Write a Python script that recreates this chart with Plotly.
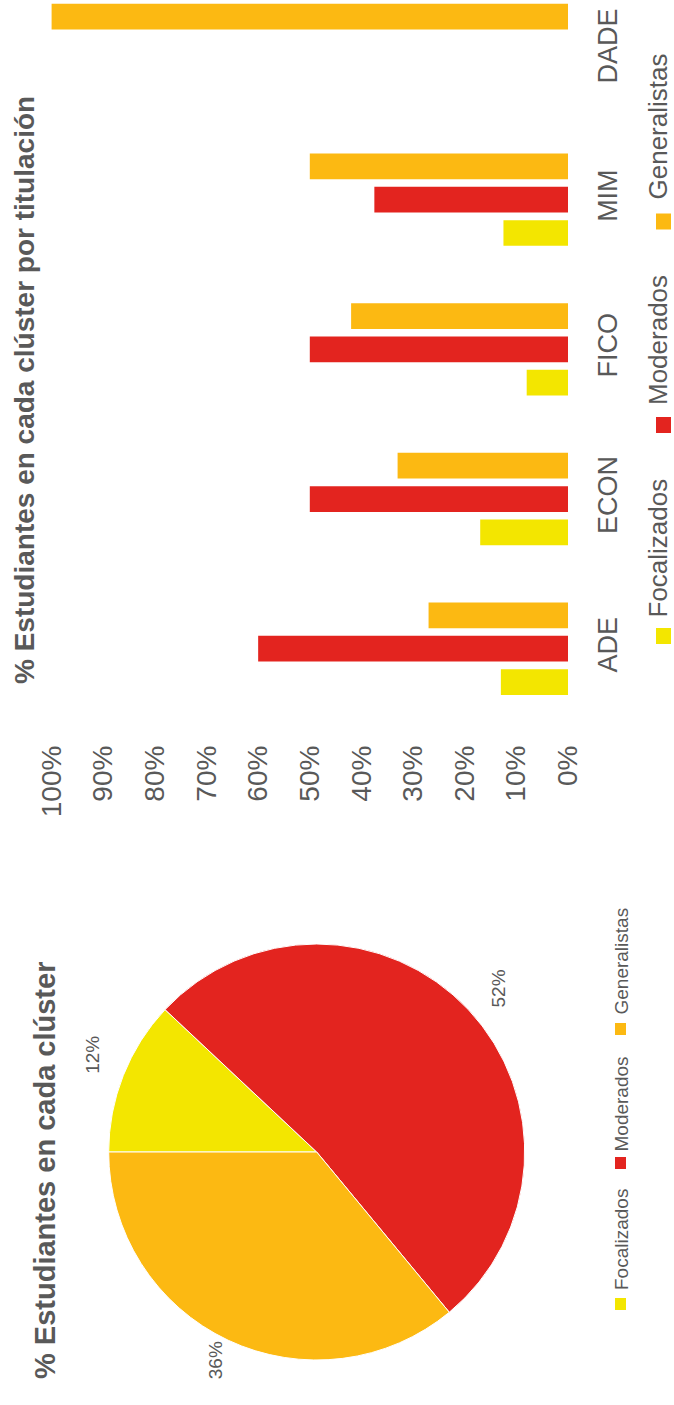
import plotly.graph_objects as go

W, H = 674, 1405

# data
titulaciones = ["ADE", "ECON", "FICO", "MIM", "DADE"]
clusters = ["Focalizados", "Moderados", "Generalistas"]
focalizados = [13, 17, 8, 12.5, 0]
moderados = [60, 50, 50, 37.5, 0]
generalistas = [27, 33, 42, 50, 100]
pie_values = [12, 52, 36]
tick_vals = [0, 10, 20, 30, 40, 50, 60, 70, 80, 90, 100]
tick_text = [f"{v}%" for v in tick_vals]

colors = ["#F3E600", "#E3241F", "#FCB912"]
grey = "#595959"
FONT = "Liberation Sans, Arial, sans-serif"


def px(x):
    return x / W


def py(y):
    return 1 - y / H


fig = go.Figure()

for name, vals, col in zip(clusters, [focalizados, moderados, generalistas], colors):
    fig.add_trace(go.Bar(y=titulaciones, x=vals, orientation="h", name=name,
                         marker=dict(color=col, line=dict(width=0)),
                         showlegend=False))

# pie, starting at 9 o'clock (the whole page is turned a quarter turn)
cx, cy, r = 316.7, 1152, 208
fig.add_trace(go.Pie(labels=clusters, values=pie_values, sort=False,
                     direction="clockwise", rotation=270,
                     marker=dict(colors=colors, line=dict(color="white", width=1)),
                     textinfo="none", showlegend=False,
                     domain=dict(x=[px(cx - r), px(cx + r)], y=[py(cy + r), py(cy - r)])))

# bar axes: 0% at x=568px, 100% at x=51.6px
x0, x1 = 30, 589
scale = (568 - 51.6) / 100
bar_top, bar_bot = 0, 739
grp = 149.7
fig.update_layout(
    width=W, height=H, margin=dict(l=0, r=0, t=0, b=0),
    paper_bgcolor="white", plot_bgcolor="white",
    font=dict(family=FONT, color=grey),
    barmode="group", bargap=0.332, bargroupgap=0.228,
    xaxis=dict(domain=[px(x0), px(x1)],
               range=[(568 - x0) / scale, (568 - x1) / scale],
               tickvals=tick_vals, ticktext=tick_text, tickangle=-90,
               tickfont=dict(size=28, color=grey),
               showgrid=False, zeroline=False, showline=False, ticks=""),
    yaxis=dict(domain=[py(bar_bot), py(bar_top)], type="category",
               categoryorder="array", categoryarray=titulaciones,
               range=[-(bar_bot - 648.7) / grp, 4 + (50 - bar_top) / grp],
               side="right", tickangle=-90, tickfont=dict(size=27, color=grey),
               showgrid=False, zeroline=False, showline=False, ticks=""),
)

ann = []
# titles
ann.append(dict(text="<b>% Estudiantes en cada clúster por titulación</b>",
                x=px(24), y=py(390), textangle=-90, font=dict(size=28, color=grey)))
ann.append(dict(text="<b>% Estudiantes en cada clúster</b>",
                x=px(45), y=py(1171), textangle=-90, font=dict(size=29, color=grey)))

# pie percentage labels
pie_label_pos = [(91.8, 1055), (498.8, 988.7), (215.2, 1360)]
total = sum(pie_values)
for v, (lx, ly) in zip(pie_values, pie_label_pos):
    ann.append(dict(text=f"{round(100 * v / total)}%", x=px(lx), y=py(ly),
                    textangle=-90, font=dict(size=19, color=grey)))

shapes = []
# bar legend (rotated)
bar_leg = [(548.5, 636), (340, 425), (126.5, 221.5)]
for name, col, (ty, sy) in zip(clusters, colors, bar_leg):
    ann.append(dict(text=name, x=px(658), y=py(ty), textangle=-90,
                    font=dict(size=26, color=grey)))
    shapes.append(dict(type="rect", xref="paper", yref="paper",
                       x0=px(656), x1=px(671), y0=py(sy + 8), y1=py(sy - 8),
                       fillcolor=col, line=dict(width=0)))

# pie legend (rotated)
pie_leg = [(1240, 1304), (1104.5, 1163), (961.5, 1029)]
for name, col, (ty, sy) in zip(clusters, colors, pie_leg):
    ann.append(dict(text=name, x=px(621), y=py(ty), textangle=-90,
                    font=dict(size=19, color=grey)))
    shapes.append(dict(type="rect", xref="paper", yref="paper",
                       x0=px(615), x1=px(626), y0=py(sy + 6), y1=py(sy - 6),
                       fillcolor=col, line=dict(width=0)))

for a in ann:
    a.update(xref="paper", yref="paper", showarrow=False,
             xanchor="center", yanchor="middle")

fig.update_layout(annotations=ann, shapes=shapes)
# drop the browser's default 8px body margin so the figure fills the window
fig.write_html("out.html", config={"displayModeBar": False},
               post_script="document.body.style.margin='0px';")
